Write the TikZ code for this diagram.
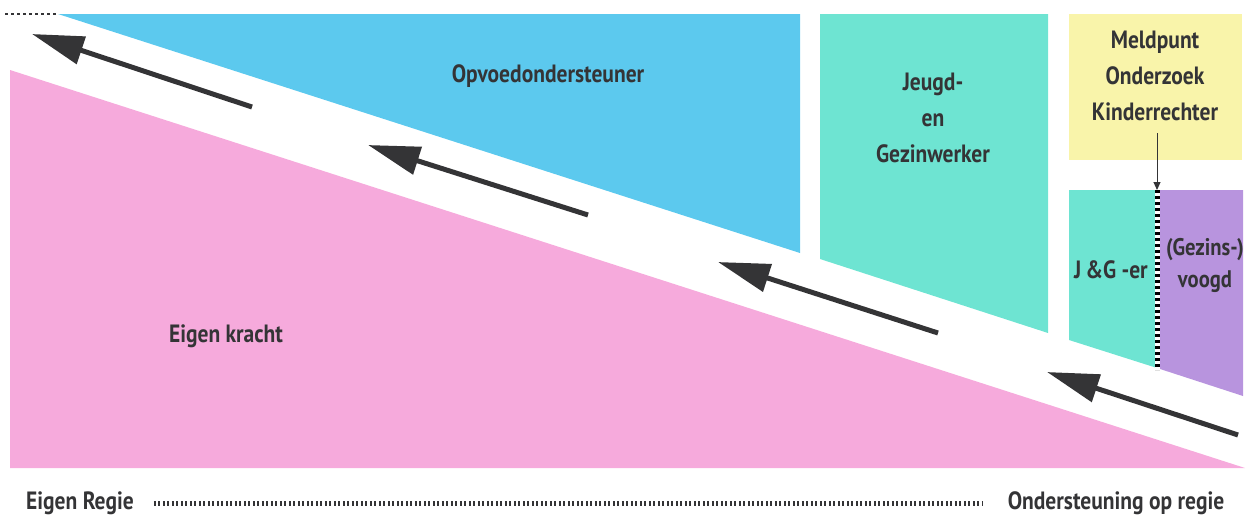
\documentclass[tikz,border=0pt]{standalone}
\usepackage{fontspec}
\setmainfont{PT Sans}[FakeStretch=0.86]
\usepackage{xcolor}
\usetikzlibrary{arrows.meta}

\definecolor{opvblue}{RGB}{92,201,238}
\definecolor{jgteal}{RGB}{110,228,210}
\definecolor{meldyellow}{RGB}{249,244,170}
\definecolor{voogdpurple}{RGB}{184,148,222}
\definecolor{krachtpink}{RGB}{246,170,220}
\definecolor{inkgray}{RGB}{52,52,54}

\tikzset{
  lbl/.style={text=inkgray, font=\fontsize{25}{26}\selectfont\bfseries, align=center, inner sep=0pt},
  bigarrow/.style={draw=inkgray, line width=5pt, -{Triangle[length=52pt, width=28pt]}},
}

\begin{document}
\begin{tikzpicture}[x=1pt, y=-1pt]
  \useasboundingbox (0,0) rectangle (1247,525);

  % Areas
  \fill[krachtpink] (10,70) -- (10,468) -- (1245,468) -- cycle;
  \fill[opvblue] (58,14) -- (800,14) -- (800,253) -- cycle;
  \fill[jgteal] (820,14) -- (1048,14) -- (1048,333) -- (820,259) -- cycle;
  \fill[meldyellow] (1069,14) rectangle (1242,160);
  \fill[jgteal] (1069,190) -- (1157,190) -- (1157,368) -- (1069,340) -- cycle;
  \fill[voogdpurple] (1157,190) -- (1243,190) -- (1243,396) -- (1157,368) -- cycle;

  % Top-left dotted line
  \draw[inkgray, line width=1.5pt, dash pattern=on 3pt off 3pt] (5,14) -- (58,14);

  % Divider between J&G-er and voogd
  \coordinate (divtop) at (1157,190);
  \coordinate (divbot) at (1157,370);
  \draw[white, line width=5pt] (divtop) -- (divbot);
  \draw[black, line width=5pt, dash pattern=on 3pt off 3pt] (divtop) -- (divbot);

  % Labels
  \node[lbl] (opv) at (548,76) {Opvoedondersteuner};
  \node[lbl] (jgw) at (933,118) {Jeugd-\\[10pt]en\\[10pt]Gezinwerker};
  \node[lbl] (meld) at (1155,76) {Meldpunt\\[10pt]Onderzoek\\[10pt]Kinderrechter};
  \node[lbl] (jger) at (1111,270) {J\,\&G -er};
  \node[lbl, font=\fontsize{24}{26}\selectfont\bfseries] (voogd) at (1205,265) {(Gezins-)\\[6pt]voogd};
  \node[lbl] (kracht) at (226,336) {Eigen kracht};

  % Arrow from Meldpunt to divider
  \draw[inkgray, line width=1pt, -{Triangle[length=8pt, width=7pt]}] (meld.south -| divtop) ++(0,12) -- (divtop);

  % Direction arrows
  \coordinate (a1s) at (252,107); \coordinate (a1e) at (32,34);
  \coordinate (a2s) at (588,215); \coordinate (a2e) at (368,145);
  \coordinate (a3s) at (938,333); \coordinate (a3e) at (718,262);
  \coordinate (a4s) at (1238,435); \coordinate (a4e) at (1047,372);
  \foreach \i in {1,...,4}
    \draw[bigarrow] (a\i s) -- (a\i e);

  % Bottom scale
  \node[lbl] (regie) at (80,503) {Eigen Regie};
  \node[lbl] (onder) at (1116,503) {Ondersteuning op regie};
  \draw[inkgray, line width=5pt, dash pattern=on 2pt off 2.5pt] ([xshift=20pt]regie.east) -- ([xshift=-25pt]onder.west);
\end{tikzpicture}
\end{document}
